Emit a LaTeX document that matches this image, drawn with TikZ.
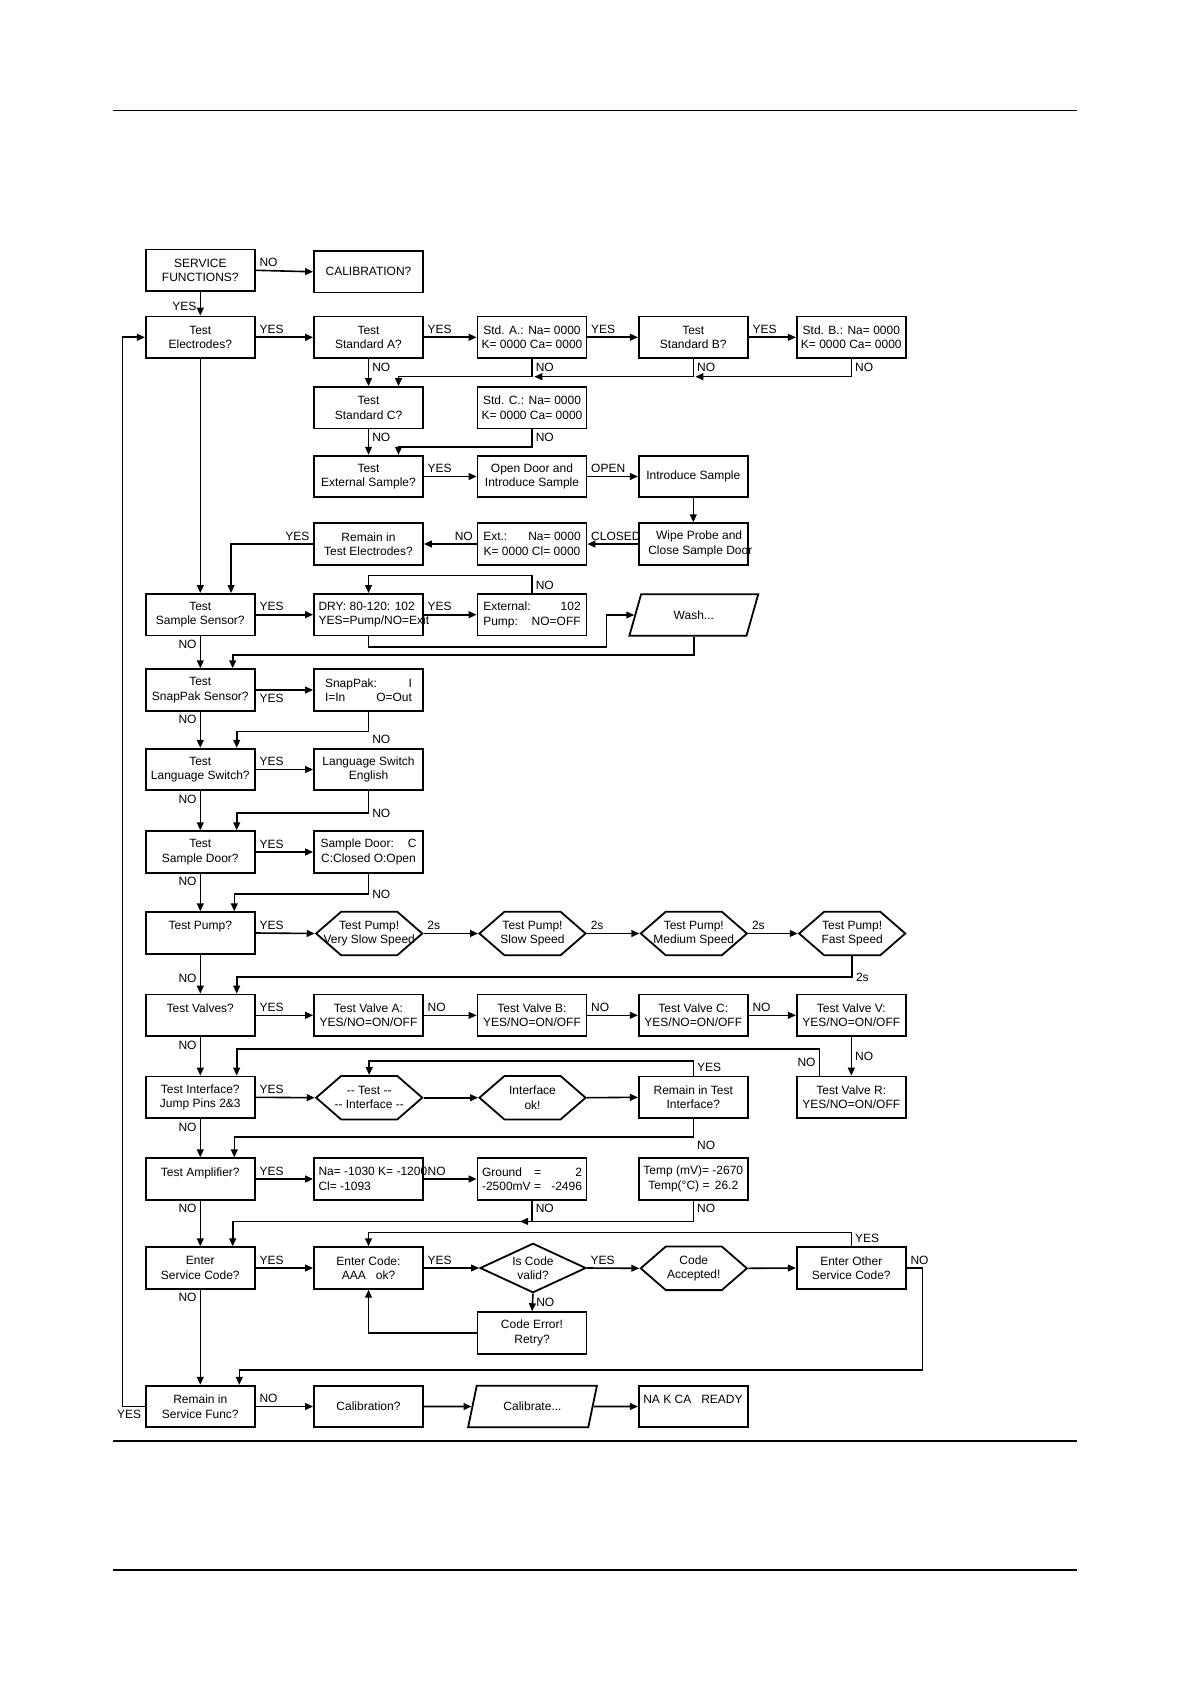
\documentclass[tikz,border=0pt]{standalone}
\usepackage{fontspec}
\setmainfont{Liberation Sans}
\usetikzlibrary{arrows.meta, shapes.geometric, shapes.symbols, calc}
\newcommand\flowfont{\fontsize{6}{7.2}\selectfont}
\newcommand\hexlines[2]{\makebox[28pt]{#1}\\\makebox[28pt]{#2}}

\begin{document}
\begin{tikzpicture}[x=0.5pt, y=-0.5pt, line width=0.8pt,
  >={Triangle[length=4pt, width=3.4pt]},
  box/.style={draw, line width=0.9pt, minimum width=54.5pt, minimum height=20.8pt,
    inner sep=1pt, align=center, font=\flowfont},
  hexa/.style={signal, signal to=west and east, signal pointer angle=82, draw,
    line width=0.9pt, minimum width=29pt, minimum height=21.8pt, inner sep=0pt,
    align=center, font=\flowfont},
  dia/.style={diamond, aspect=2.15, draw, line width=0.9pt, minimum width=53pt,
    minimum height=24.7pt, inner sep=0pt, align=center, font=\flowfont},
  para/.style={trapezium, trapezium left angle=63, trapezium right angle=117,
    trapezium stretches=true, draw, line width=0.9pt, minimum width=64.5pt,
    minimum height=20.8pt, inner sep=0pt, font=\flowfont},
  lbl/.style={font=\flowfont, inner sep=1.5pt}]
  \useasboundingbox (0,0) rectangle (1190,1684);
  \draw (113,110.6) -- (1077,110.6);
  \draw (113,1441) -- (1077,1441);
  \draw (113,1570) -- (1077,1570);

  \node[box] (sf) at (200.3,270.3) {SERVICE\\FUNCTIONS?};
  \node[box] (cal) at (368.5,271.8) {CALIBRATION?};
  \node[box] (te) at (200.3,337.3) {Test\\Electrodes?};
  \node[box] (tsa) at (368.5,337.3) {Test\\Standard A?};
  \node[box] (sta) at (532,337.3) {Std. A.: Na= 0000\\K= 0000 Ca= 0000};
  \node[box] (tsb) at (693.3,337.3) {Test\\Standard B?};
  \node[box] (stb) at (851.3,337.3) {Std. B.: Na= 0000\\K= 0000 Ca= 0000};
  \node[box] (tsc) at (368.5,407.8) {Test\\Standard C?};
  \node[box] (stc) at (532,407.8) {Std. C.: Na= 0000\\K= 0000 Ca= 0000};
  \node[box] (tes) at (368.5,476.5) {Test\\External Sample?};
  \node[box] (od) at (532,476.5) {Open Door and\\Introduce Sample};
  \node[box] (is) at (693.3,476.5) {Introduce Sample};
  \node[box] (rte) at (368.5,544) {Remain in\\Test Electrodes?};
  \node[box] (ext) at (532,544) {\makebox[48.7pt]{Ext.:\hfill Na= 0000}\\K= 0000 Cl= 0000};
  \node[box] (wp) at (693.3,544) {\makebox[50pt][l]{\hspace{6.4pt}Wipe Probe and}\\
    \makebox[50pt][l]{\hspace{2.5pt}Close Sample Door}};
  \node[box] (tss) at (200.3,614.7) {Test\\Sample Sensor?};
  \node[box] (dry) at (368.5,614.7) {\makebox[50pt][l]{DRY: 80-120: 102}\\
    \makebox[50pt][l]{YES=Pump/NO=Exit}};
  \node[box] (xp) at (532,614.7) {\makebox[48.7pt]{External:\hfill 102}\\
    \makebox[48.7pt]{Pump:\hfill NO=OFF}};
  \node[para] (wash) at (693.8,615) {Wash...};
  \node[box] (tsp) at (200.3,690) {Test\\SnapPak Sensor?};
  \node[box] (snap) at (368.5,690) {\makebox[43.5pt]{SnapPak:\hfill I}\\
    \makebox[43.5pt]{I=In\hfill O=Out}};
  \node[box] (tls) at (200.3,769.5) {Test\\Language Switch?};
  \node[box] (lse) at (368.5,769.5) {Language Switch\\English};
  \node[box] (tsd) at (200.3,852) {Test\\Sample Door?};
  \node[box] (sdc) at (368.5,852) {\makebox[48pt]{Sample Door:\hfill C}\\C:Closed O:Open};
  \node[box] (tp) at (200.3,933) {Test Pump?\\\mbox{}};
  \node[hexa] (pvs) at (369.2,933.5) {\hexlines{Test Pump!}{Very Slow Speed}};
  \node[hexa] (ps) at (532.5,933.5) {\hexlines{Test Pump!}{Slow Speed}};
  \node[hexa] (pm) at (693.8,933.5) {\hexlines{Test Pump!}{Medium Speed}};
  \node[hexa] (pf) at (852.2,933.5) {\hexlines{Test Pump!}{Fast Speed}};
  \node[box] (tv) at (200.3,1015.3) {Test Valves?\\\mbox{}};
  \node[box] (va) at (368.5,1015.3) {Test Valve A:\\YES/NO=ON/OFF};
  \node[box] (vb) at (532,1015.3) {Test Valve B:\\YES/NO=ON/OFF};
  \node[box] (vc) at (693.3,1015.3) {Test Valve C:\\YES/NO=ON/OFF};
  \node[box] (vv) at (851.3,1015.3) {Test Valve V:\\YES/NO=ON/OFF};
  \node[box] (ti) at (200.3,1097.3) {Test Interface?\\Jump Pins 2\&3};
  \node[hexa] (thx) at (369.2,1097.7) {\hexlines{-{}- Test -{}-}{-{}- Interface -{}-}};
  \node[hexa] (iok) at (532.5,1097.7) {\hexlines{Interface}{ok!}};
  \node[box] (rti) at (693.3,1097.3) {Remain in Test\\Interface?};
  \node[box] (vr) at (851.3,1097.3) {Test Valve R:\\YES/NO=ON/OFF};
  \node[box] (ta) at (200.3,1179) {Test Amplifier?\\\mbox{}};
  \node[box] (na) at (368.5,1179) {\makebox[50pt][l]{Na= -1030 K= -1200}\\
    \makebox[50pt][l]{Cl= -1093}};
  \node[box] (gnd) at (532,1179) {\makebox[50pt]{Ground\hspace{6pt}=\hfill 2}\\
    \makebox[50pt]{-2500mV =\hfill -2496}};
  \node[box] (tmp) at (693.3,1179) {Temp (mV)= -2670\\Temp(°C) = \,26.2};
  \node[box] (esc) at (200.3,1268) {Enter\\Service Code?};
  \node[box] (ec) at (368.5,1268) {Enter Code:\\AAA\hspace{5pt}ok?};
  \node[dia] (icv) at (533,1268) {Is Code\\valid?};
  \node[hexa] (ca) at (693.8,1268.3) {\hexlines{Code}{Accepted!}};
  \node[box] (eo) at (851.3,1268) {Enter Other\\Service Code?};
  \node[box] (cer) at (532,1333) {Code Error!\\Retry?};
  \node[box] (rsf) at (200.3,1406.5) {Remain in\\Service Func?};
  \node[box] (cal2) at (368.5,1406.5) {Calibration?};
  \node[para] (calb) at (532.5,1406.5) {Calibrate...};
  \node[box] (rdy) at (693.3,1406.5) {\makebox[50pt][l]{NA K CA\hspace{5pt}READY}\\\mbox{}};

  \foreach \src/\dst/\txt in {sf/cal/NO, te/tsa/YES, tsa/sta/YES, sta/tsb/YES,
      tsb/stb/YES, tes/od/YES, od/is/OPEN, tss/dry/YES, dry/xp/YES, tls/lse/YES,
      tsd/sdc/YES, tp/pvs/YES, pvs/ps/2s, ps/pm/2s, pm/pf/2s, tv/va/YES,
      va/vb/NO, vb/vc/NO, vc/vv/NO, ti/thx/YES, ta/na/YES, na/gnd/NO,
      esc/ec/YES, ec/icv/YES, icv/ca/YES, rsf/cal2/NO}
    \draw[->] (\src.east) node[lbl, above right] {\txt} -- (\dst.west);
  \foreach \src/\dst in {thx/iok, iok/rti, ca/eo, cal2/calb, calb/rdy}
    \draw[->] (\src.east) -- (\dst.west);
  \foreach \src/\dst in {tss/tsp, tsp/tls, tls/tsd, tsd/tp, tv/ti, ti/ta, ta/esc, esc/rsf}
    \draw[->] (\src.south) node[lbl, below left] {NO} -- (\dst.north);

  \draw[->] (sf.south) -- node[lbl, left, pos=0.6] {YES} (te.north);
  \draw[->] (te.south) -- (tss.north);
  \draw[->] (tp.south) -- node[lbl, left, pos=0.62] {NO} (tv.north);
  \draw[->] (tsp.east) node[lbl, below right] {YES} -- (snap.west);
  \draw[->] (is.south) -- (wp.north);
  \draw[->] (wp.west) -- (ext.east) node[lbl, above right] {CLOSED};
  \draw[->] (ext.west) node[lbl, above left] {NO} -- (rte.east);

  \draw[->] (tsa.south) node[lbl, below right] {NO} -- (tsc.north);
  \draw[->] (tsc.south) node[lbl, below right] {NO} -- (tes.north);
  \draw[->] (stb.south) node[lbl, below right] {NO} |- ++(-156,17.7);
  \draw[->] (tsb.south) node[lbl, below right] {NO} |- ++(-159,17.7);
  \draw[->] (sta.south) node[lbl, below right] {NO} -- ++(0,17.7) -| ([xshift=15pt]tsc.north);
  \draw[->] (stc.south) node[lbl, below right] {NO} -- ++(0,17.7) -| ([xshift=15pt]tes.north);

  \draw[->] (rte.west) node[lbl, above left] {YES} -| ([xshift=15.4pt]tss.north);
  \draw[->] (xp.north) node[lbl, above right] {NO} -- ++(0,-17.6) -| (dry.north);
  \draw[->] (dry.south) -- ++(0,10.7) -| ([xshift=-14pt]wash.west) -- (wash.west);
  \draw[->] (wash.south) -- ++(0,18) -| ([xshift=16.2pt]tsp.north);
  \draw[->] (snap.south) -- ++(0,19.7) node[lbl, below right] {NO} -| ([xshift=18.2pt]tls.north);
  \draw[->] (lse.south) -- ++(0,21.7) node[lbl, right] {NO} -| ([xshift=18.2pt]tsd.north);
  \draw[->] (sdc.south) -- ++(0,20.3) node[lbl, right] {NO} -| ([xshift=17pt]tp.north);
  \draw[->] (pf.south) -- ++(0,21) node[lbl, right] {2s} -| ([xshift=18.2pt]tv.north);

  \draw[->] (vv.south) -- node[lbl, right] {NO} (vr.north);
  \draw[->] ([xshift=-16pt]vr.north) -- node[lbl, left] {NO} ++(0,-26.7) -| ([xshift=18.2pt]ti.north);
  \draw[->] (rti.north) node[lbl, above right] {YES} -- ++(0,-14.7) -| (thx.north);
  \draw[->] (rti.south) -- ++(0,18) node[lbl, below right] {NO} -| ([xshift=17pt]ta.north);
  \draw[->] (gnd.south) node[lbl, below right] {NO} |- ++(-12,20.7);
  \draw[->] (tmp.south) node[lbl, below right] {NO} -- ++(0,20.7) -| ([xshift=16.2pt]esc.north);

  \draw[->] (icv.south) -- node[lbl, right] {NO} (cer.north);
  \draw[->] (cer.west) -| (ec.south);
  \draw[->] (eo.north) node[lbl, above right] {YES} -- ++(0,-14) -| (ec.north);
  \draw[->] (eo.east) node[lbl, above right] {NO} -- ++(15.7,0) -- ++(0,101.7) -| ([xshift=19.5pt]rsf.north);
  \draw[->] (rsf.west) node[lbl, below left] {YES} -- ++(-22.6,0) |- (te.west);
\end{tikzpicture}
\end{document}
